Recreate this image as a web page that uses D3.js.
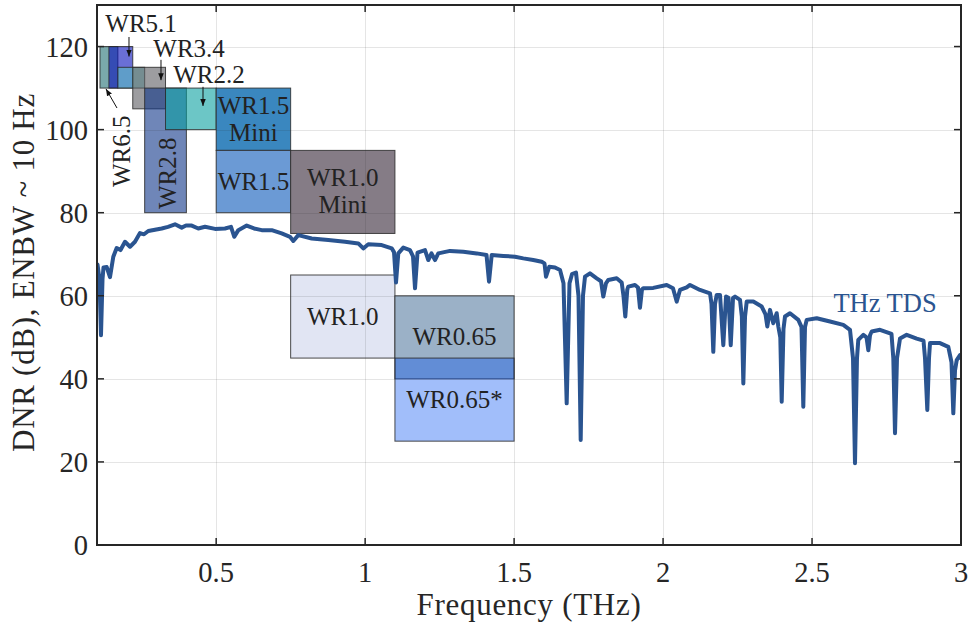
<!DOCTYPE html>
<html>
<head>
<meta charset="utf-8">
<script src="https://cdn.jsdelivr.net/npm/d3@7"></script>
<style>
  html, body { margin: 0; padding: 0; background: #fff; }
  svg { display: block; }
</style>
</head>
<body>
<svg id="chart" width="968" height="625"></svg>
<script>
// THz time-domain spectrometer dynamic range (ENBW ~ 10 Hz)
const freqTHz = [
  0.1017,0.1084,0.1134,0.1185,0.1218,0.1326,0.1436,0.1547,0.1661,0.1789,
  0.1940,0.2108,0.2275,0.2443,0.2578,0.2722,0.2947,0.3172,0.3383,0.3618,
  0.3843,0.3987,0.4179,0.4400,0.4625,0.4961,0.5296,0.5498,0.5609,0.5743,
  0.6025,0.6270,0.6528,0.6864,0.7199,0.7478,0.7589,0.7757,0.8206,0.8764,
  0.9324,0.9771,0.9938,1.0106,1.0556,1.0892,1.0969,1.1036,1.1113,1.1281,
  1.1506,1.1607,1.1674,1.1758,1.2009,1.2120,1.2227,1.2345,1.2456,1.2849,
  1.3295,1.3745,1.4074,1.4158,1.4248,1.4637,1.5030,1.5309,1.5644,1.5926,
  1.6020,1.6071,1.6181,1.6373,1.6541,1.6658,1.6765,1.6859,1.6943,1.7077,
  1.7161,1.7235,1.7312,1.7380,1.7547,1.7772,1.7917,1.7994,1.8084,1.8161,
  1.8443,1.8611,1.8671,1.8732,1.8799,1.8832,1.9057,1.9158,1.9225,1.9292,
  1.9336,1.9671,2.0121,2.0333,2.0457,2.0568,2.0793,2.0904,2.1239,2.1575,
  2.1626,2.1686,2.1743,2.1800,2.1911,2.2022,2.2113,2.2197,2.2271,2.2348,
  2.2415,2.2583,2.2644,2.2694,2.2751,2.2808,2.3029,2.3311,2.3439,2.3499,
  2.3590,2.3700,2.3814,2.3868,2.3935,2.3982,2.4042,2.4093,2.4260,2.4539,
  2.4646,2.4707,2.4764,2.4821,2.5156,2.5603,2.6049,2.6274,2.6375,2.6442,
  2.6509,2.6553,2.6721,2.6828,2.6889,2.6946,2.7003,2.7281,2.7667,2.7728,
  2.7785,2.7852,2.7953,2.8177,2.8513,2.8741,2.8792,2.8869,2.8926,2.8960,
  2.9295,2.9574,2.9681,2.9742,2.9799,2.9856,2.9966,3.0000
];
const dnrDb = [
  67.5,64,50.5,64,66.8,66.9,64.5,69.4,71.5,71,
  73,71.8,73,75.1,74.8,75.6,75.9,76.2,76.6,77.2,
  76.4,76.9,76.9,76.2,76.6,76.1,76.2,76.6,74.2,75.8,
  76.9,76.2,75.8,75.8,75.0,74.2,73.2,74.6,73.8,73.4,
  73.0,72.6,71.4,72.4,72.2,71.4,70.5,63.2,70.2,71.6,
  71.0,69.5,61.8,70.4,71.0,68.6,70.2,68.6,70.2,70.8,
  70.6,70.2,69.8,63.4,69.8,69.6,69.4,69.0,68.6,68.2,
  67.8,64.6,67.0,66.8,66.2,63,34.1,63,65.2,65.6,
  60,25.3,60,64.6,65.4,64.2,63.5,59.8,63.0,63.8,
  64.2,63.2,60,55.0,61.5,62.2,62.6,62.0,57.1,61.5,
  61.8,61.9,62.6,61.8,58.6,61.4,62.0,62.6,61.4,60.6,
  58,46.5,58,60.2,60.2,48.1,59.8,59.5,48.1,59.5,
  59.8,59.0,55,38.9,55,58.6,58.6,57.4,55.5,52.6,
  56.6,53.4,55.8,52.6,50,34.5,52,55.0,55.8,54.2,
  52.5,33.3,52.5,54.2,54.6,53.8,53.0,51.8,45,19.7,
  45,49.4,50.6,50,46.9,50.5,51.4,51.8,50.8,45,
  26.9,45,49.7,50.6,49.7,49.2,45,32.5,45,48.6,
  48.6,47.7,44,31.7,42,44.5,45.7,45
];

// Waveguide (VNA extender) bands: frequency span and dynamic range span
const bandNames    = ["WR6.5","WR5.1","WR4.3","WR3.4","WR2.8","WR2.2","WR1.5 Mini","WR1.5","WR1.0 Mini","WR1.0","WR0.65","WR0.65*"];
const bandStartTHz = [0.11, 0.14, 0.17, 0.22, 0.26, 0.33, 0.50, 0.50, 0.75, 0.75, 1.10, 1.10];
const bandStopTHz  = [0.17, 0.22, 0.26, 0.33, 0.40, 0.50, 0.75, 0.75, 1.10, 1.10, 1.50, 1.50];
const bandLowDb    = [110, 110, 110, 105,  80, 100,  95,  80,  75,  45,  40,  25];
const bandHighDb   = [120, 120, 115, 115, 110, 110, 110,  95,  95,  65,  60,  45];

const xTicks = [0.5, 1, 1.5, 2, 2.5, 3];
const xTickLabels = ["0.5", "1", "1.5", "2", "2.5", "3"];
const yTicks = [0, 20, 40, 60, 80, 100, 120];
const yTickLabels = ["0", "20", "40", "60", "80", "100", "120"];

// Fill colour and opacity per band (same order as bandNames)
const bandFill  = ["#217073","#070fbb","#58bcbf","#5c5c61","#0f3589","#0aa0a0","#3a87bf","#6b9ad5","#857c86","#e1e5f3","#9bb1c7","#004ff1"];
const bandAlpha = [0.6, 0.6, 0.6, 0.6, 0.6, 0.6, 1, 1, 1, 1, 1, 0.37];
// Bands labelled inside their own box (others use callouts)
const inBoxLabels = {
  "WR1.5 Mini": ["WR1.5", "Mini"],
  "WR1.5": ["WR1.5"],
  "WR1.0 Mini": ["WR1.0", "Mini"],
  "WR1.0": ["WR1.0"],
  "WR0.65": ["WR0.65"],
  "WR0.65*": ["WR0.65*"]
};
// Callout labels for the small low-frequency bands (data coordinates)
const callouts = [
  { text: "WR5.1", f: 0.248, db: 123.5, rot: 0, arrow: [0.2074, 122.3, 0.2074, 117.6] },
  { text: "WR3.4", f: 0.409, db: 117.5, rot: 0, arrow: [0.3148, 116.8, 0.3148, 111.9] },
  { text: "WR2.2", f: 0.476, db: 111.2, rot: 0, arrow: [0.4558, 110.3, 0.4558, 105.7] },
  { text: "WR6.5", f: 0.181, db: 94.8, rot: -90, arrow: [0.1671, 105.2, 0.1302, 109.8] },
  { text: "WR2.8", f: 0.335, db: 89.5, rot: -90, arrow: null }
];

const W = 968, H = 625;
const plotLeft = 97, plotRight = 961, plotTop = 5, plotBottom = 545;
const curveColor = "#2a5490";
const axisColor = "#262626";
const serif = "'Liberation Serif', 'DejaVu Serif', serif";
const labelSize = 25;

const x = d3.scaleLinear().domain([0.1, 3]).range([plotLeft, plotRight]);
const y = d3.scaleLinear().domain([0, 130]).range([plotBottom, plotTop]);

const svg = d3.select("#chart").attr("font-family", serif);

const defs = svg.append("defs");
defs.append("clipPath").attr("id", "plotClip")
  .append("rect").attr("x", plotLeft).attr("y", plotTop)
  .attr("width", plotRight - plotLeft).attr("height", plotBottom - plotTop);
defs.append("marker")
  .attr("id", "arrowHead").attr("viewBox", "0 0 10 10").attr("refX", 10).attr("refY", 5)
  .attr("markerWidth", 7).attr("markerHeight", 7).attr("orient", "auto-start-reverse")
  .attr("markerUnits", "userSpaceOnUse")
  .append("path").attr("d", "M0,1 L10,5 L0,9 Z").attr("fill", "#111");

// Band boxes
const bands = bandNames.map((name, i) => ({
  name, f0: bandStartTHz[i], f1: bandStopTHz[i], lo: bandLowDb[i], hi: bandHighDb[i],
  fill: bandFill[i], alpha: bandAlpha[i]
}));

const gBands = svg.append("g");
gBands.selectAll("rect").data(bands).join("rect")
  .attr("x", d => x(d.f0)).attr("y", d => y(d.hi))
  .attr("width", d => x(d.f1) - x(d.f0)).attr("height", d => y(d.lo) - y(d.hi))
  .attr("fill", d => d.fill).attr("fill-opacity", d => d.alpha)
  .attr("stroke", "#2b2b2b").attr("stroke-opacity", 0.85).attr("stroke-width", 1);

// Grid lines
const gGrid = svg.append("g").attr("stroke", "#262626").attr("stroke-opacity", 0.12).attr("stroke-width", 1);
gGrid.selectAll("line.gx").data(xTicks).join("line").attr("class", "gx")
  .attr("x1", d => Math.round(x(d)) + 0.5).attr("x2", d => Math.round(x(d)) + 0.5)
  .attr("y1", plotTop).attr("y2", plotBottom);
gGrid.selectAll("line.gy").data(yTicks.filter(v => v > 0)).join("line").attr("class", "gy")
  .attr("y1", d => Math.round(y(d)) + 0.5).attr("y2", d => Math.round(y(d)) + 0.5)
  .attr("x1", plotLeft).attr("x2", plotRight);

// Labels inside the boxes
const gBandText = svg.append("g").attr("fill", "#222").attr("font-family", serif)
  .attr("font-size", labelSize).attr("text-anchor", "middle");
bands.filter(d => inBoxLabels[d.name]).forEach(d => {
  const lines = inBoxLabels[d.name];
  const cx = x((d.f0 + d.f1) / 2);
  const cy = (y(d.lo) + y(d.hi)) / 2;
  const gap = 27;
  lines.forEach((t, k) => {
    gBandText.append("text")
      .attr("x", cx)
      .attr("y", cy + 8 + (k - (lines.length - 1) / 2) * gap)
      .text(t);
  });
});

// Callouts with arrows
const gCall = svg.append("g");
callouts.forEach(c => {
  if (c.arrow) {
    gCall.append("line")
      .attr("x1", x(c.arrow[0])).attr("y1", y(c.arrow[1]))
      .attr("x2", x(c.arrow[2])).attr("y2", y(c.arrow[3]))
      .attr("stroke", "#111").attr("stroke-width", 1)
      .attr("marker-end", "url(#arrowHead)");
  }
  const px = x(c.f), py = y(c.db);
  const t = gCall.append("text").attr("fill", "#222").attr("font-family", serif).attr("font-size", labelSize)
    .attr("text-anchor", "middle").text(c.text);
  if (c.rot) {
    t.attr("transform", `translate(${px},${py}) rotate(${c.rot})`).attr("dy", "0.35em");
  } else {
    t.attr("x", px).attr("y", py);
  }
});

// DNR curve
const line = d3.line().x(d => x(d[0])).y(d => y(d[1]));
svg.append("path")
  .datum(freqTHz.map((f, i) => [f, dnrDb[i]]))
  .attr("clip-path", "url(#plotClip)")
  .attr("d", line)
  .attr("fill", "none").attr("stroke", curveColor).attr("stroke-width", 4)
  .attr("stroke-linejoin", "round").attr("stroke-linecap", "round");

svg.append("text").attr("x", x(2.745)).attr("y", y(56.1))
  .attr("text-anchor", "middle").attr("font-family", serif).attr("font-size", 26.5).attr("fill", curveColor)
  .text("THz TDS");

// Axes frame and inward ticks
const gAxes = svg.append("g").attr("stroke", axisColor);
gAxes.append("rect").attr("x", plotLeft).attr("y", plotTop)
  .attr("width", plotRight - plotLeft).attr("height", plotBottom - plotTop)
  .attr("fill", "none").attr("stroke-width", 2);
const tickLen = 7;
xTicks.forEach(v => {
  const px = x(v);
  gAxes.append("line").attr("x1", px).attr("x2", px).attr("y1", plotBottom).attr("y2", plotBottom - tickLen).attr("stroke-width", 1.5);
  gAxes.append("line").attr("x1", px).attr("x2", px).attr("y1", plotTop).attr("y2", plotTop + tickLen).attr("stroke-width", 1.5);
});
yTicks.forEach(v => {
  const py = y(v);
  gAxes.append("line").attr("x1", plotLeft).attr("x2", plotLeft + tickLen).attr("y1", py).attr("y2", py).attr("stroke-width", 1.5);
  gAxes.append("line").attr("x1", plotRight).attr("x2", plotRight - tickLen).attr("y1", py).attr("y2", py).attr("stroke-width", 1.5);
});

// Tick labels
const gTickText = svg.append("g").attr("fill", axisColor).attr("font-family", serif).attr("font-size", 28.5);
gTickText.selectAll("text.xt").data(xTicks).join("text").attr("class", "xt")
  .attr("x", d => x(d)).attr("y", 582).attr("text-anchor", "middle")
  .text((d, i) => xTickLabels[i]);
gTickText.selectAll("text.yt").data(yTicks).join("text").attr("class", "yt")
  .attr("x", plotLeft - 9).attr("y", d => y(d)).attr("dy", "0.35em").attr("text-anchor", "end")
  .text((d, i) => yTickLabels[i]);

// Axis titles
svg.append("text").attr("x", (plotLeft + plotRight) / 2).attr("y", 615).attr("text-anchor", "middle")
  .attr("font-family", serif).attr("font-size", 31).attr("letter-spacing", 0.7)
  .attr("fill", axisColor).text("Frequency (THz)");
svg.append("text").attr("transform", `translate(23,272.5) rotate(-90)`)
  .attr("dy", "0.35em").attr("text-anchor", "middle")
  .attr("font-family", serif).attr("font-size", 31).attr("letter-spacing", 0.7)
  .attr("fill", axisColor).text("DNR (dB), ENBW ~ 10 Hz");
</script>
</body>
</html>
